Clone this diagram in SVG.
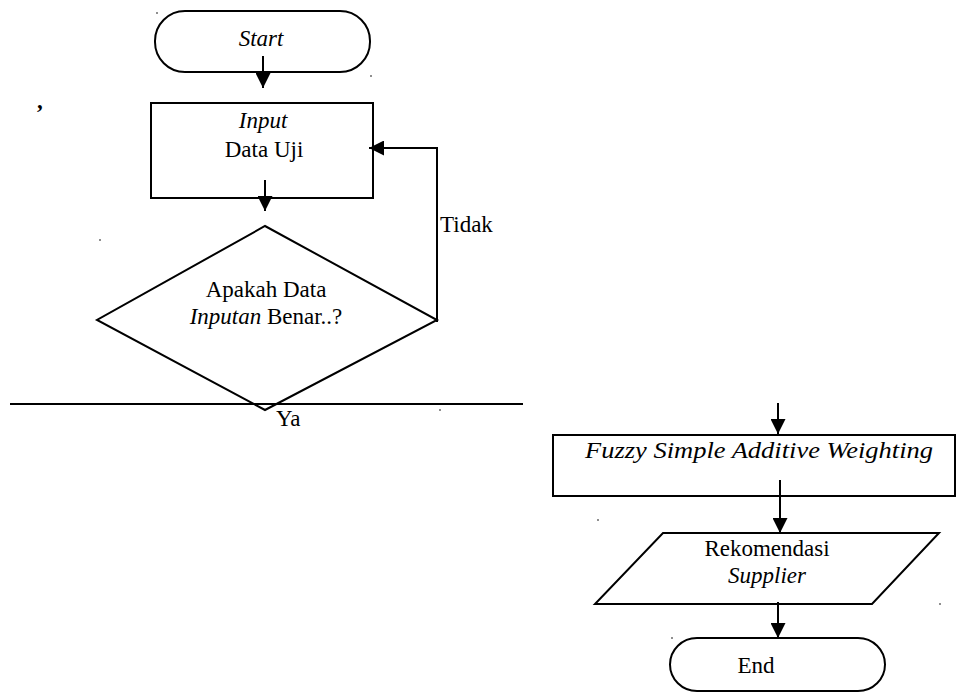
<svg xmlns="http://www.w3.org/2000/svg" width="970" height="695" viewBox="0 0 970 695" font-family="'Liberation Serif', Tinos, 'Times New Roman', 'DejaVu Serif', serif">
  <style>
    .shape { fill: #ffffff; stroke: #000000; stroke-width: 2; }
    .edge { fill: none; stroke: #000000; stroke-width: 2; }
    .t { font-family: 'Liberation Serif', Tinos, 'Times New Roman', 'DejaVu Serif', serif; font-size: 23px; fill: #000000; }
    .i { font-style: italic; }
    .mid { text-anchor: middle; }
    .dot { fill: #000000; }
  </style>
  <defs>
    <marker id="arrow" viewBox="0 0 15 15" refX="15" refY="7.5" markerWidth="15" markerHeight="15" markerUnits="userSpaceOnUse" orient="auto">
      <path d="M0,0 L15,7.5 L0,15 Z" fill="#000000"/>
    </marker>
  </defs>

  <rect width="970" height="695" fill="#ffffff"/>

  <!-- nodes -->
  <g id="start">
    <rect class="shape" x="155" y="11" width="215" height="61" rx="30" ry="30"/>
    <text class="t i mid" x="261" y="46" font-size="25">Start</text>
  </g>

  <g id="input">
    <rect class="shape" x="151" y="103" width="222" height="95"/>
    <text class="t i mid" x="263" y="128">Input</text>
    <text class="t mid" x="264" y="157">Data Uji</text>
  </g>

  <g id="decision">
    <polygon class="shape" points="265,226 437,320 265,410 97,320"/>
    <text class="t mid" x="266" y="297">Apakah Data</text>
    <text class="t mid" x="266" y="324"><tspan class="i">Inputan</tspan> Benar..?</text>
  </g>

  <g id="fsaw">
    <rect class="shape" x="553" y="435" width="402" height="61"/>
    <text class="t i" x="585" y="458" font-size="26" textLength="348" lengthAdjust="spacingAndGlyphs">Fuzzy Simple Additive Weighting</text>
  </g>

  <g id="output">
    <polygon class="shape" points="663,533 939,533 872,604 595,604"/>
    <text class="t mid" x="767" y="556">Rekomendasi</text>
    <text class="t i mid" x="767" y="583">Supplier</text>
  </g>

  <g id="end">
    <rect class="shape" x="670" y="638" width="215" height="53" rx="27" ry="27"/>
    <text class="t mid" x="756" y="673">End</text>
  </g>

  <!-- connectors -->
  <g id="connectors">
    <line class="edge" x1="263" y1="56" x2="263" y2="88" marker-end="url(#arrow)"/>
    <line class="edge" x1="265" y1="180" x2="265" y2="211" marker-end="url(#arrow)"/>
    <polyline class="edge" points="437,322 437,148 369,148" marker-end="url(#arrow)"/>
    <line class="edge" x1="10" y1="404" x2="523" y2="404"/>
    <line class="edge" x1="778" y1="403" x2="778" y2="434" marker-end="url(#arrow)"/>
    <line class="edge" x1="780" y1="480" x2="780" y2="533" marker-end="url(#arrow)"/>
    <line class="edge" x1="778" y1="602" x2="778" y2="638" marker-end="url(#arrow)"/>
  </g>

  <!-- labels -->
  <text class="t" x="440" y="232">Tidak</text>
  <text class="t" x="276" y="426">Ya</text>
  <text class="t" x="37" y="108" font-size="40" font-weight="bold">,</text>

  <!-- stray marks -->
  <circle class="dot" cx="157" cy="13" r="0.8"/>
  <circle class="dot" cx="371" cy="76" r="0.8"/>
  <circle class="dot" cx="100" cy="240" r="0.8"/>
  <circle class="dot" cx="440" cy="410" r="0.8"/>
  <circle class="dot" cx="598" cy="520" r="0.8"/>
  <circle class="dot" cx="940" cy="604" r="0.8"/>
  <circle class="dot" cx="672" cy="638" r="0.8"/>
</svg>
